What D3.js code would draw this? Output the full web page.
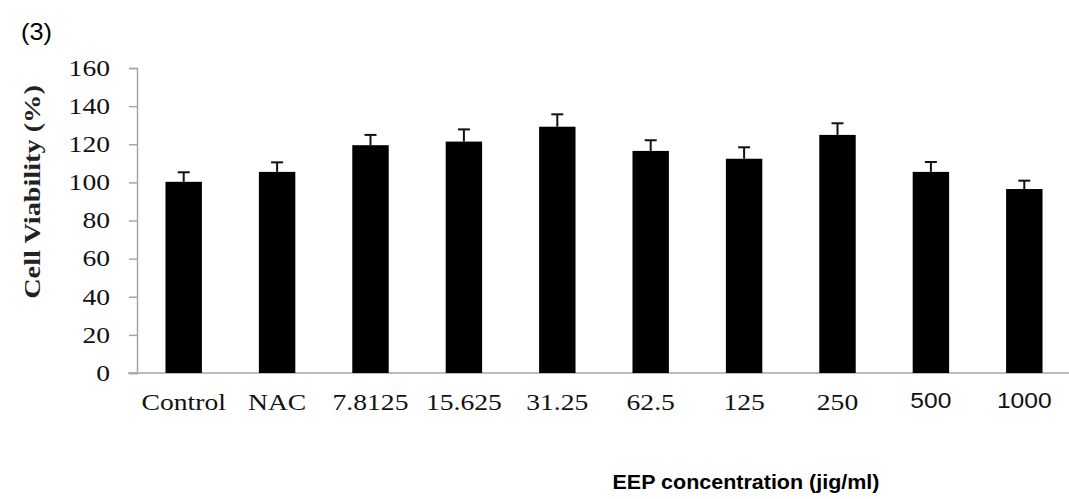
<!DOCTYPE html>
<html>
<head>
<meta charset="utf-8">
<script src="https://cdn.jsdelivr.net/npm/d3@7"></script>
<style>
  body { margin: 0; background: #fff; }
  svg { display: block; }
</style>
</head>
<body>
<svg id="chart" width="1069" height="499"></svg>
<script>
// data
var groups = ["Control", "NAC", "7.8125", "15.625", "31.25", "62.5", "125", "250", "500", "1000"];
var viability = [100.3, 105.5, 119.5, 121.4, 129.2, 116.5, 112.4, 124.9, 105.5, 96.5];
var errors = [5.0, 5.0, 5.4, 6.4, 6.5, 5.6, 6.0, 6.1, 5.2, 4.4];
var yTicks = [0, 20, 40, 60, 80, 100, 120, 140, 160];
// the last two tick labels are set in a sans face in the original
var sansLabels = ["500", "1000"];

var serif = "Liberation Serif, Times New Roman, serif";
var sans = "Liberation Sans, Arial, sans-serif";
// the original figure is stretched sideways, so text gets a little x-scale
var stretch = 1.2;

var svg = d3.select("#chart");

var x = d3.scaleBand()
    .domain(groups)
    .range([137, 1071])
    .paddingInner(0.61)
    .paddingOuter(0.305);

var y = d3.scaleLinear()
    .domain([0, 160])
    .range([373, 68]);

// panel tag
svg.append("text")
    .attr("transform", "translate(21,40) scale(1.1,1)")
    .attr("font-family", sans)
    .attr("font-size", 23)
    .text("(3)");

// y axis
var yAxis = svg.append("g")
    .attr("transform", "translate(137,0)")
    .call(d3.axisLeft(y).tickValues(yTicks).tickSize(8).tickPadding(19));
yAxis.select(".domain").attr("stroke", "#a6a6a6").attr("stroke-width", 1.5);
yAxis.selectAll(".tick line").attr("stroke", "#a6a6a6").attr("stroke-width", 1.5);
yAxis.selectAll(".tick text")
    .attr("x", 0)
    .attr("transform", "translate(-27,0) scale(" + stretch + ",1)")
    .attr("font-family", serif)
    .attr("font-size", 23)
    .attr("fill", "#111");

// x axis baseline
svg.append("line")
    .attr("x1", 128)
    .attr("x2", 1069)
    .attr("y1", y(0))
    .attr("y2", y(0))
    .attr("stroke", "#a6a6a6")
    .attr("stroke-width", 1.5);

// bars
svg.append("g").selectAll("rect")
    .data(groups)
  .enter().append("rect")
    .attr("x", d => x(d))
    .attr("width", x.bandwidth())
    .attr("y", (d, i) => y(viability[i]))
    .attr("height", (d, i) => y(0) - y(viability[i]))
    .attr("fill", "#000");

// error bars (upper only)
var err = svg.append("g")
    .attr("stroke", "#111")
    .attr("stroke-width", 2);
groups.forEach(function(d, i) {
  var cx = x(d) + x.bandwidth() / 2;
  err.append("line")
      .attr("x1", cx).attr("x2", cx)
      .attr("y1", y(viability[i]))
      .attr("y2", y(viability[i] + errors[i]));
  err.append("line")
      .attr("x1", cx - 6).attr("x2", cx + 6)
      .attr("y1", y(viability[i] + errors[i]))
      .attr("y2", y(viability[i] + errors[i]));
});

// category labels
svg.append("g").selectAll("text")
    .data(groups)
  .enter().append("text")
    .attr("transform", function(d) {
      var cx = x(d) + x.bandwidth() / 2;
      var isSans = sansLabels.includes(d);
      return "translate(" + cx + "," + (isSans ? 408 : 410) + ") scale(" + (isSans ? 1.12 : stretch) + ",1)";
    })
    .attr("text-anchor", "middle")
    .attr("font-family", d => sansLabels.includes(d) ? sans : serif)
    .attr("font-size", d => sansLabels.includes(d) ? 22 : 23)
    .attr("fill", "#111")
    .text(d => d);

// y title
svg.append("text")
    .attr("transform", "translate(40,192) rotate(-90) scale(1.23,1)")
    .attr("text-anchor", "middle")
    .attr("font-family", serif)
    .attr("font-weight", "bold")
    .attr("font-size", 23)
    .attr("fill", "#222")
    .text("Cell Viability (%)");

// x title
svg.append("text")
    .attr("x", 746)
    .attr("y", 489)
    .attr("text-anchor", "middle")
    .attr("font-family", sans)
    .attr("font-weight", "bold")
    .attr("font-size", 20)
    .attr("textLength", 267)
    .attr("lengthAdjust", "spacingAndGlyphs")
    .text("EEP concentration (jig/ml)");
</script>
</body>
</html>
